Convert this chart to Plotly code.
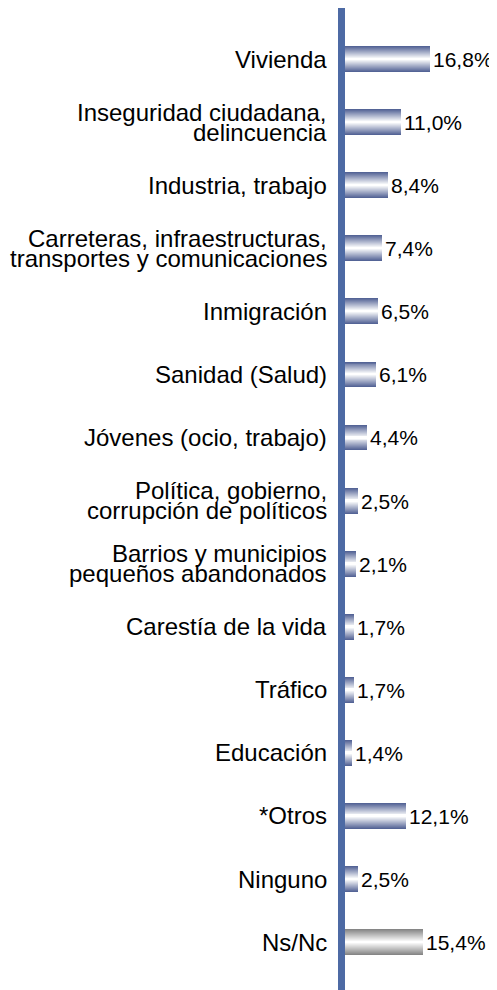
import plotly.graph_objects as go

categories = [
    "Vivienda",
    "Inseguridad ciudadana,<br>delincuencia",
    "Industria, trabajo",
    "Carreteras, infraestructuras,<br>transportes y comunicaciones",
    "Inmigración",
    "Sanidad (Salud)",
    "Jóvenes (ocio, trabajo)",
    "Política, gobierno,<br>corrupción de políticos",
    "Barrios y municipios<br>pequeños abandonados",
    "Carestía de la vida",
    "Tráfico",
    "Educación",
    "*Otros",
    "Ninguno",
    "Ns/Nc",
]
values = [16.8, 11.0, 8.4, 7.4, 6.5, 6.1, 4.4, 2.5, 2.1, 1.7, 1.7, 1.4, 12.1, 2.5, 15.4]
groups = ["blue"] * 14 + ["gray"]

edge_colors = {"blue": (84, 100, 150), "gray": (134, 134, 134)}
labels = [f"{v:.1f}".replace(".", ",") + "%" for v in values]
ypos = list(range(len(categories)))

FONT = "Liberation Sans, Arial"

fig = go.Figure()
N = 13
W = 0.41
for k in range(N):
    t = k / (N - 1)
    cols = []
    for g in groups:
        r, gg, b = edge_colors[g]
        cols.append(f"rgb({int(r + (255 - r) * t)},{int(gg + (255 - gg) * t)},{int(b + (255 - b) * t)})")
    fig.add_trace(go.Bar(
        x=values, y=ypos, orientation="h",
        width=W * (1 - k / N),
        marker=dict(color=cols, line=dict(width=0)),
        text=labels if k == 0 else None,
        textposition="outside" if k == 0 else "none",
        textfont=dict(family=FONT, size=21, color="#000000"),
        cliponaxis=False,
        hoverinfo="skip",
        showlegend=False,
    ))

# category labels, drawn per line for tight line spacing
LINE = 20
for i, lab in enumerate(categories):
    lines = lab.split("<br>")
    n = len(lines)
    for j, ln in enumerate(lines):
        fig.add_annotation(
            x=0, y=ypos[i], xref="x", yref="y",
            text=ln, showarrow=False,
            xanchor="right", yanchor="middle",
            xshift=-16, yshift=-(j - (n - 1) / 2) * LINE,
            font=dict(family=FONT, size=24, color="#000000"),
        )

# page body has an 8px margin, so the figure is sized to fit the window
fig.update_layout(
    width=489, height=982,
    barmode="overlay",
    bargap=0,
    margin=dict(l=337, r=0, t=0, b=0),
    plot_bgcolor="white", paper_bgcolor="white",
    font=dict(family=FONT, size=19, color="#000000"),
    xaxis=dict(range=[0, 30], visible=False, fixedrange=True, automargin=False),
    yaxis=dict(
        range=[14.76, -0.81],
        showticklabels=False,
        showline=True, linewidth=7, linecolor="#4d6aa4",
        showgrid=False, zeroline=False, ticks="",
        automargin=False,
    ),
)

fig.write_html("out.html")
